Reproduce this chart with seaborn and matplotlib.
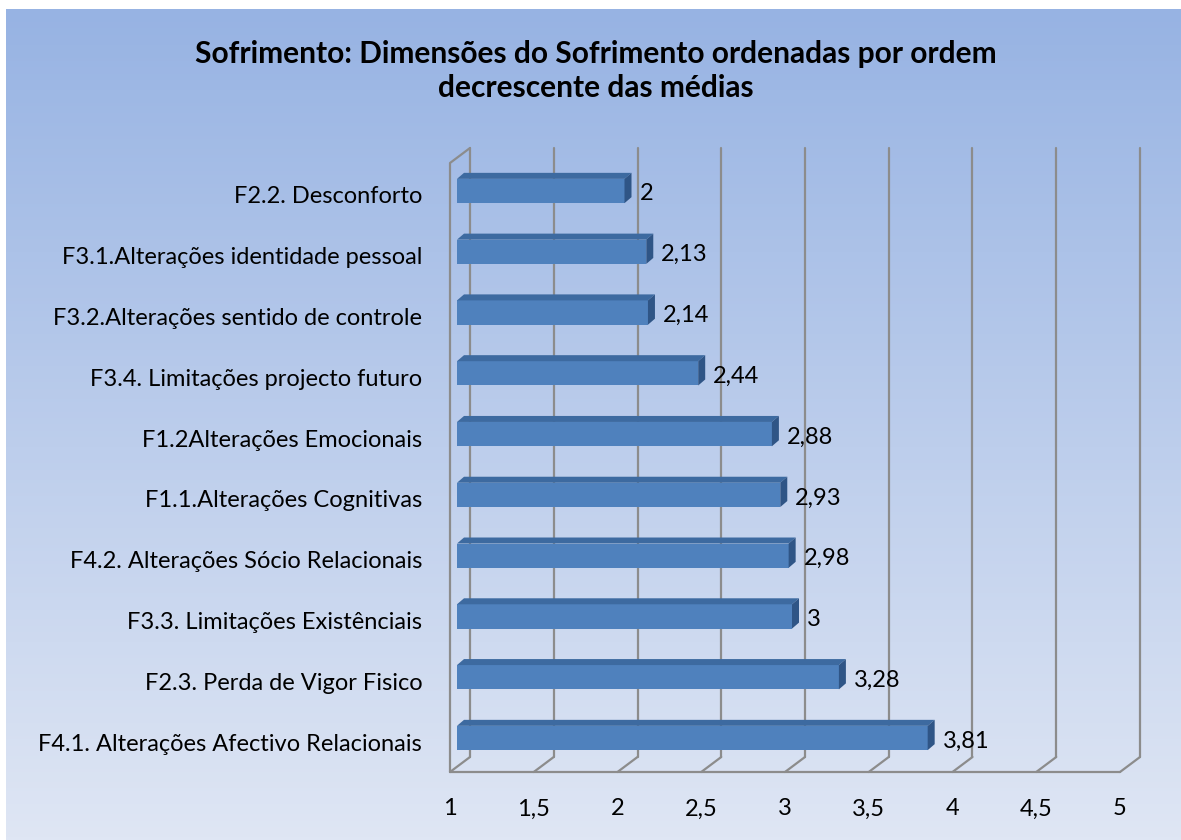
import numpy as np
import matplotlib.pyplot as plt
import seaborn as sns
from matplotlib.patches import Polygon
from matplotlib.colors import LinearSegmentedColormap
import matplotlib.transforms as mtransforms

# Dados (ordem decrescente das médias, de cima para baixo)
categorias = [
    "F2.2. Desconforto",
    "F3.1.Alterações identidade pessoal",
    "F3.2.Alterações sentido de controle",
    "F3.4. Limitações projecto futuro",
    "F1.2Alterações Emocionais",
    "F1.1.Alterações Cognitivas",
    "F4.2. Alterações Sócio Relacionais",
    "F3.3. Limitações Existênciais",
    "F2.3. Perda de Vigor Fisico",
    "F4.1. Alterações Afectivo Relacionais",
]
medias = [2, 2.13, 2.14, 2.44, 2.88, 2.93, 2.98, 3, 3.28, 3.81]
rotulos = ["2", "2,13", "2,14", "2,44", "2,88", "2,93", "2,98", "3", "3,28", "3,81"]
ticks = [1, 1.5, 2, 2.5, 3, 3.5, 4, 4.5, 5]
tick_labels = ["1", "1,5", "2", "2,5", "3", "3,5", "4", "4,5", "5"]

sns.set_theme(style="white")
plt.rcParams['font.family'] = ['Lato', 'DejaVu Sans']

W, H = 1181, 840
fig = plt.figure(figsize=(W / 100, H / 100), dpi=100)

# fundo em degradê
bg = fig.add_axes([6 / W, 0, 1 - 6 / W, 1 - 9 / H], zorder=-10)
grad = np.linspace(0, 1, 256).reshape(-1, 1)
cmap = LinearSegmentedColormap.from_list("fundo", ["#97b3e3", "#dfe6f4"])
bg.imshow(grad, aspect="auto", cmap=cmap, extent=[0, 1, 0, 1])
bg.axis("off")

# eixo principal (plano frontal + profundidade)
x0px, x1px, ytop, ybot = 450, 1140, 148, 772
ax = fig.add_axes([x0px / W, 1 - ybot / H, (x1px - x0px) / W, (ybot - ytop) / H])
ax.patch.set_alpha(0)

xpp = 0.5 / 83.75          # unidades de x por pixel
ypp = 1 / 60.78            # unidades de categoria por pixel
xmax = 1 + (x1px - x0px) * xpp
y_lo = 9 + (ybot - 738) * ypp
y_hi = -(191 - ytop) * ypp

sns.barplot(x=medias, y=categorias, orient="h", color="#4f81bd",
            width=0.4, saturation=1, ax=ax, zorder=3)

sx = 7 * xpp
ddx, ddy = 7 * xpp, 6 * ypp
hw = 0.2
for i, (p, v) in enumerate(zip(ax.patches, medias)):
    p.set_x(1 + sx)
    p.set_width(v - 1)
    p.set_edgecolor("none")
    top = [(1 + sx, i - hw), (v + sx, i - hw), (v + sx + ddx, i - hw - ddy), (1 + sx + ddx, i - hw - ddy)]
    side = [(v + sx, i - hw), (v + sx + ddx, i - hw - ddy), (v + sx + ddx, i + hw - ddy), (v + sx, i + hw)]
    ax.add_patch(Polygon(top, closed=True, facecolor="#3d6aa0", edgecolor="none", zorder=3))
    ax.add_patch(Polygon(side, closed=True, facecolor="#2f5586", edgecolor="none", zorder=3))
    ax.text(v + 22 * xpp, i + 3 * ypp, rotulos[i], va="center", ha="left",
            fontsize=17, color="black", zorder=4)

# paredes e grelha em perspectiva
wx, wy = 20 * xpp, 15 * ypp
gcol, glw = "#8c8c8c", 1.6
for t in ticks:
    ax.plot([t + wx, t + wx], [y_lo - wy, y_hi], color=gcol, lw=glw, zorder=1, clip_on=False)
    ax.plot([t, t + wx], [y_lo, y_lo - wy], color=gcol, lw=glw, zorder=1, clip_on=False)
ax.plot([1, 5], [y_lo, y_lo], color=gcol, lw=glw, zorder=1, clip_on=False)
ax.plot([1, 1, 1 + wx], [y_lo, y_hi + wy, y_hi], color=gcol, lw=glw, zorder=2, clip_on=False)

ax.set_xlim(1, xmax)
ax.set_ylim(y_lo, y_hi)
ax.set_xticks(ticks)
ax.set_xticklabels(tick_labels)
ax.set_xlabel("")
ax.set_ylabel("")
sns.despine(ax=ax, left=True, bottom=True)
ax.tick_params(axis="both", length=0, labelsize=17, colors="black")
ax.tick_params(axis="x", pad=19)
ax.tick_params(axis="y", pad=20)
for lab in ax.get_yticklabels():
    lab.set_transform(lab.get_transform() + mtransforms.ScaledTranslation(0, -4 / 100, fig.dpi_scale_trans))

fig.text(596 / W, 1 - 71 / H,
         "Sofrimento: Dimensões do Sofrimento ordenadas por ordem\ndecrescente das médias",
         ha="center", va="center", fontsize=21.5, fontweight="bold", linespacing=1.25,
         color="black")

fig.savefig("out.png", dpi=100)
